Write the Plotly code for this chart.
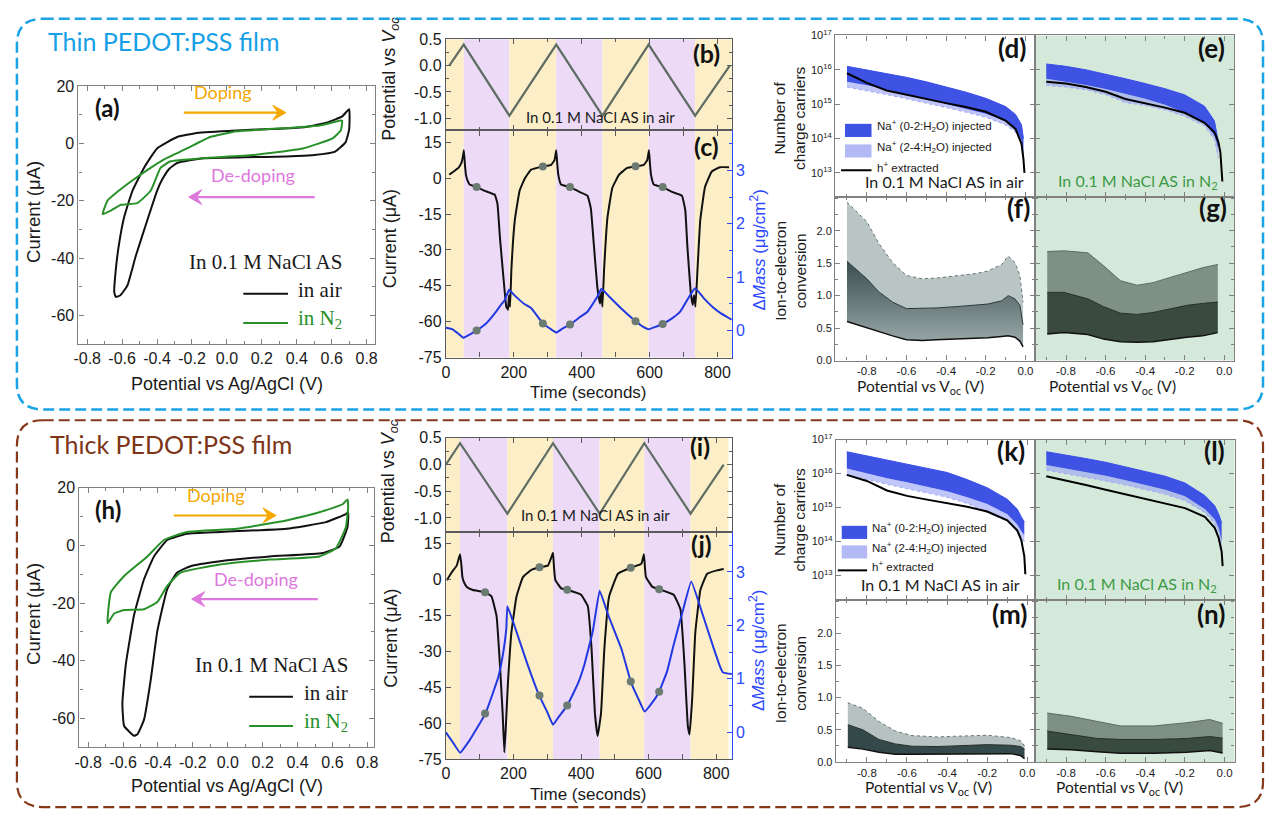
import plotly.graph_objects as go

W, H = 1271, 818

# ======================= DATA =======================
# (a) thin film cyclic voltammograms
a_air_E = [-0.636, -0.645, -0.636, -0.617, -0.588, -0.541, -0.475, -0.40, -0.285, -0.172, 0.055, 0.30, 0.45, 0.58, 0.66, 0.70,
           0.70, 0.68, 0.62, 0.50, 0.34, 0.10, -0.134, -0.285, -0.33, -0.37, -0.40, -0.456, -0.522, -0.57, -0.61, -0.636]
a_air_I = [-53.6, -52, -43.9, -34.8, -25.6, -16.5, -8.5, -1.7, 2.3, 3.7, 4.6, 5.2, 5.8, 7.5, 9.5, 12,
           5, 0.5, -2.8, -4.0, -4.5, -4.8, -5.1, -6.8, -8.8, -12.5, -16.5, -26.8, -39.3, -49.6, -53, -53.6]
a_n2_E = [-0.712, -0.683, -0.62, -0.54, -0.45, -0.36, -0.229, -0.096, 0.056, 0.34, 0.53, 0.644, 0.66,
          0.652, 0.605, 0.435, 0.15, -0.134, -0.323, -0.38, -0.437, -0.513, -0.607, -0.664, -0.712]
a_n2_I = [-24.7, -19.9, -16.5, -12.8, -9.0, -5.5, -1.7, 2.3, 4.3, 5.4, 6.3, 8.0, 8.0,
          4.6, 1.8, -1.7, -4.0, -5.1, -6.2, -8.5, -16.5, -20.8, -21.4, -23.4, -24.7]

# (h) thick film cyclic voltammograms
h_air_E = [-0.537, -0.594, -0.604, -0.584, -0.537, -0.48, -0.423, -0.347, -0.234, -0.044, 0.335, 0.563, 0.677, 0.69,
           0.686, 0.64, 0.544, 0.24, -0.044, -0.214, -0.29, -0.347, -0.404, -0.442, -0.48, -0.518, -0.537]
h_air_I = [-66, -62.6, -54.7, -41.1, -24.1, -11.7, -3.8, 1.9, 4.1, 4.7, 5.8, 8.1, 10.9, 11.5,
           6.4, -0.4, -2.6, -3.8, -5.5, -7.2, -9.4, -15.1, -29.8, -46.8, -60.4, -65.5, -66]
h_n2_E = [-0.689, -0.67, -0.594, -0.461, -0.366, -0.234, 0.051, 0.335, 0.525, 0.658, 0.686, 0.69,
          0.677, 0.62, 0.525, 0.24, -0.044, -0.271, -0.347, -0.404, -0.48, -0.594, -0.651, -0.689]
h_n2_I = [-27, -16.2, -10.6, -3.8, 1.9, 4.7, 5.8, 8.7, 11.5, 14.3, 16.0, 13.6,
          6.4, -0.95, -3.8, -4.9, -6.6, -9.4, -14, -19.6, -22.1, -22.4, -23.6, -27]

# (b) / (i) applied potential vs time
b_t = [10, 52.6, 187, 325, 461, 597, 734, 836]
b_V = [0.0, 0.4, -0.95, 0.4, -0.95, 0.4, -0.95, 0.0]
i_t = [0, 42, 182, 317, 455, 587, 724, 822]
i_V = [0.0, 0.4, -0.92, 0.4, -0.92, 0.4, -0.92, 0.0]

# doping (yellow) / de-doping (purple) intervals, seconds
thin_band_edges = [0, 52.6, 187, 325, 461, 597, 734, 842]
thick_band_edges = [0, 42, 182, 317, 455, 587, 724, 836]

# (c) thin film current and mass
c_t = [10, 25, 37, 46, 50, 53, 56, 59, 64, 70, 91, 115, 144, 152, 159, 169, 178, 183, 186, 189,
       193, 203, 217, 232, 251, 286, 310, 320, 325, 328, 331, 339, 366, 393, 417, 427, 435, 446, 454, 458,
       461, 466, 476, 490, 510, 534, 559, 583, 593, 598, 601, 604, 612, 638, 666, 695, 705, 711, 721, 727,
       731, 735, 741, 749, 763, 783, 807, 834]
c_I = [1.5, 3.0, 4.3, 6.5, 9, 11.7, 6, 1.5, -1, -2.6, -3.7, -5.3, -6.9, -10.7, -24.4, -40.7, -53.7, -55, -48.9, -53.7,
       -38, -17.6, -5.3, -0.2, 3.6, 4.9, 5.6, 7.6, 11.7, 6, 1.5, -2.6, -3.7, -5.7, -7.3, -12.7, -26.5, -45.5, -52.4, -47.7,
       -53.7, -38, -16.3, -4.1, 1.5, 4.3, 5.0, 5.6, 7.6, 11.7, 6, 1.5, -2.6, -3.7, -5.7, -7.3, -13.4, -28.2, -47.7, -53,
       -48.9, -53.7, -38, -17.6, -3.7, 2.8, 4.6, 4.6]
cm_t = [0, 20, 40, 52, 70, 91, 120, 145, 165, 173, 186, 200, 230, 251, 286, 310, 325, 345, 366, 395,
        417, 446, 458, 480, 515, 559, 580, 597, 615, 638, 665, 690, 719, 734, 760, 787, 810, 842]
cm_M = [0.05, 0.02, -0.08, -0.14, -0.08, 0.0, 0.14, 0.33, 0.5, 0.56, 0.76, 0.67, 0.5, 0.42, 0.13, 0.02, -0.04, 0.04, 0.11, 0.25,
        0.35, 0.63, 0.78, 0.64, 0.42, 0.17, 0.07, 0.02, 0.06, 0.12, 0.22, 0.35, 0.66, 0.79, 0.6, 0.43, 0.32, 0.2]
c_mk_t = [90.6, 285.6, 365.5, 558.5, 638.4]
c_mk_I = [-3.7, 4.9, -3.7, 5.0, -3.7]
c_mk_M = [0.0, 0.13, 0.11, 0.17, 0.12]

# (j) thick film current and mass
j_t = [3, 18, 32, 42, 46, 49, 55, 62, 80, 116, 135, 150, 160, 168, 173, 177, 184, 194, 209, 228,
       253, 277, 302, 312, 317, 320, 324, 341, 359, 400, 420, 431, 441, 449, 459, 469, 483, 509, 547, 578,
       586, 589, 592, 611, 631, 674, 694, 706, 716, 721, 729, 738, 753, 773, 802, 822]
j_I = [-0.2, 3.2, 5.9, 10.6, 6, 1.1, -1.5, -3.0, -4.3, -5.2, -7.0, -15.2, -35.5, -55.9, -72.2, -62.7, -42.3, -22, -7, 1.1,
       4.1, 5.2, 5.9, 9.3, 11.3, 5, -0.2, -3.6, -4.2, -6.3, -11.1, -28.7, -55.9, -65.4, -55.9, -28.7, -7, 2.5, 5.0, 6.6,
       10.6, 5, 1.1, -3.0, -4.0, -6.3, -12.4, -35.5, -61.3, -64.7, -49.1, -22, -4.3, 2.5, 3.9, 4.5]
jm_t = [0, 20, 42, 70, 117, 155, 170, 179, 182, 200, 240, 276, 300, 317, 335, 359, 390, 410, 435, 455,
        480, 520, 547, 570, 588, 610, 631, 655, 674, 700, 726, 760, 792, 810, 820, 847]
jm_M = [0, -0.18, -0.38, -0.15, 0.35, 1.03, 1.5, 1.95, 2.36, 2.05, 1.3, 0.69, 0.38, 0.14, 0.3, 0.5, 0.9, 1.27, 1.9, 2.65,
        2.2, 1.55, 0.95, 0.62, 0.39, 0.55, 0.76, 1.15, 1.64, 2.25, 2.82, 2.2, 1.58, 1.25, 1.12, 1.09]
j_mk_t = [116, 277, 359, 547, 631]
j_mk_I = [-5.2, 5.2, -4.2, 5.0, -4.0]
j_mk_M = [0.35, 0.69, 0.5, 0.95, 0.76]

# (d)(e)(k)(l) number of charge carriers, given as log10 exponents
d_x = [-0.9, -0.8, -0.7, -0.6, -0.5, -0.4, -0.3, -0.2, -0.1, -0.05, -0.02, -0.01]
d_dark_hi = [16.1, 16.0, 15.9, 15.78, 15.65, 15.5, 15.35, 15.17, 14.93, 14.7, 14.4, 14.0]
d_dark_lo = [15.65, 15.55, 15.42, 15.28, 15.14, 15.0, 14.86, 14.72, 14.5, 14.3, 13.95, 13.5]
d_light_lo = [15.5, 15.4, 15.28, 15.16, 15.04, 14.9, 14.77, 14.62, 14.4, 14.2, 13.85, 13.4]
d_h_x = [-0.9, -0.8, -0.7, -0.6, -0.5, -0.4, -0.3, -0.2, -0.1, -0.05, -0.02, -0.01, -0.005]
d_h = [15.9, 15.62, 15.4, 15.27, 15.15, 15.03, 14.92, 14.78, 14.52, 14.28, 13.85, 13.4, 13.0]

e_x = [-0.9, -0.8, -0.7, -0.6, -0.5, -0.4, -0.3, -0.2, -0.1, -0.05, -0.03]
e_dark_hi = [16.17, 16.1, 16.0, 15.88, 15.74, 15.6, 15.45, 15.27, 14.94, 14.51, 13.9]
e_dark_lo = [15.74, 15.66, 15.56, 15.44, 15.31, 15.16, 14.98, 14.75, 14.46, 14.09, 13.7]
e_light_lo = [15.55, 15.5, 15.42, 15.28, 15.05, 14.96, 14.84, 14.65, 14.37, 13.98, 13.43]
e_h_x = [-0.9, -0.8, -0.7, -0.6, -0.5, -0.4, -0.3, -0.2, -0.1, -0.05, -0.03, -0.02, -0.01]
e_h = [15.65, 15.6, 15.5, 15.36, 15.15, 15.03, 14.9, 14.75, 14.46, 14.18, 13.9, 13.6, 12.75]

k_x = [-0.9, -0.8, -0.7, -0.6, -0.5, -0.4, -0.3, -0.2, -0.1, -0.05, -0.03, -0.015]
k_dark_hi = [16.64, 16.52, 16.4, 16.28, 16.17, 16.03, 15.82, 15.58, 15.24, 14.95, 14.72, 14.57]
k_dark_lo = [16.15, 16.0, 15.86, 15.74, 15.62, 15.48, 15.3, 15.1, 14.8, 14.5, 14.3, 14.18]
k_light_lo = [15.96, 15.82, 15.68, 15.55, 15.43, 15.3, 15.12, 14.86, 14.6, 14.3, 14.12, 13.99]
k_h_x = [-0.9, -0.8, -0.7, -0.6, -0.5, -0.4, -0.3, -0.2, -0.1, -0.05, -0.03, -0.015, -0.01]
k_h = [15.96, 15.78, 15.5, 15.34, 15.23, 15.13, 15.02, 14.88, 14.62, 14.32, 14.04, 13.56, 13.03]

l_x = [-0.9, -0.8, -0.7, -0.6, -0.5, -0.4, -0.3, -0.2, -0.1, -0.05, -0.03, -0.015]
l_dark_hi = [16.64, 16.55, 16.44, 16.33, 16.2, 16.07, 15.92, 15.72, 15.35, 15.05, 14.8, 14.55]
l_dark_lo = [16.25, 16.15, 16.04, 15.93, 15.8, 15.67, 15.52, 15.33, 14.95, 14.65, 14.4, 14.0]
l_light_lo = [16.1, 16.0, 15.89, 15.78, 15.66, 15.53, 15.39, 15.2, 14.85, 14.52, 14.25, 13.8]
l_h_x = [-0.9, -0.8, -0.7, -0.6, -0.5, -0.4, -0.3, -0.2, -0.1, -0.05, -0.03, -0.015, -0.01]
l_h = [15.92, 15.8, 15.66, 15.52, 15.38, 15.25, 15.12, 14.98, 14.72, 14.4, 14.1, 13.7, 13.27]

# (f)(g)(m)(n) ion-to-electron conversion (lower, middle, upper boundaries)
f_x = [-0.9, -0.8, -0.74, -0.67, -0.6, -0.52, -0.45, -0.35, -0.25, -0.19, -0.12, -0.087, -0.053, -0.028, -0.012]
f_lo = [0.6, 0.5, 0.44, 0.38, 0.32, 0.31, 0.32, 0.33, 0.34, 0.35, 0.37, 0.38, 0.36, 0.3, 0.21]
f_mid = [1.53, 1.26, 1.06, 0.9, 0.8, 0.8, 0.81, 0.83, 0.85, 0.87, 0.92, 1.0, 0.95, 0.85, 0.55]
f_up = [2.44, 2.14, 1.81, 1.51, 1.31, 1.26, 1.27, 1.31, 1.34, 1.38, 1.48, 1.61, 1.51, 1.31, 0.9]

g_x = [-0.895, -0.81, -0.69, -0.61, -0.525, -0.44, -0.36, -0.275, -0.19, -0.11, -0.033]
g_lo = [0.41, 0.43, 0.4, 0.33, 0.29, 0.28, 0.29, 0.33, 0.36, 0.38, 0.43]
g_mid = [1.05, 1.05, 0.95, 0.83, 0.73, 0.71, 0.74, 0.79, 0.85, 0.88, 0.9]
g_up = [1.68, 1.69, 1.66, 1.46, 1.23, 1.16, 1.2, 1.28, 1.36, 1.43, 1.48]

m_x = [-0.895, -0.82, -0.74, -0.657, -0.575, -0.45, -0.36, -0.2, -0.083, -0.033, -0.014]
m_lo = [0.23, 0.2, 0.15, 0.12, 0.12, 0.12, 0.12, 0.12, 0.13, 0.1, 0.05]
m_mid = [0.58, 0.5, 0.35, 0.28, 0.245, 0.24, 0.25, 0.27, 0.26, 0.24, 0.2]
m_up = [0.92, 0.835, 0.63, 0.48, 0.41, 0.39, 0.4, 0.415, 0.38, 0.33, 0.25]

n_x = [-0.895, -0.775, -0.642, -0.525, -0.358, -0.192, -0.075, -0.01]
n_lo = [0.2, 0.19, 0.16, 0.137, 0.137, 0.15, 0.18, 0.14]
n_mid = [0.48, 0.43, 0.365, 0.35, 0.35, 0.365, 0.395, 0.37]
n_up = [0.76, 0.71, 0.63, 0.56, 0.56, 0.61, 0.66, 0.6]

# tick values / labels
cv_xticks = [-0.8, -0.6, -0.4, -0.2, 0.0, 0.2, 0.4, 0.6, 0.8]
cv_xtext = ["-0.8", "-0.6", "-0.4", "-0.2", "0.0", "0.2", "0.4", "0.6", "0.8"]
cv_yticks = [-60, -40, -20, 0, 20]
cv_ytext = ["-60", "-40", "-20", "0", "20"]
pot_ticks = [-1.0, -0.5, 0.0, 0.5]
pot_text = ["-1.0", "-0.5", "0.0", "0.5"]
cur_ticks = [-75, -60, -45, -30, -15, 0, 15]
cur_text = ["-75", "-60", "-45", "-30", "-15", "0", "15"]
time_ticks = [0, 200, 400, 600, 800]
time_text = ["0", "200", "400", "600", "800"]
mass_ticks = [0, 1, 2, 3]
mass_text = ["0", "1", "2", "3"]
log_ticks = [1e13, 1e14, 1e15, 1e16, 1e17]
log_text = ["10<sup>13</sup>", "10<sup>14</sup>", "10<sup>15</sup>", "10<sup>16</sup>", "10<sup>17</sup>"]
conv_ticks = [0.0, 0.5, 1.0, 1.5, 2.0]
conv_text = ["0.0", "0.5", "1.0", "1.5", "2.0"]
voc_ticks = [-0.8, -0.6, -0.4, -0.2, 0.0]
voc_text = ["-0.8", "-0.6", "-0.4", "-0.2", "0.0"]

# ======================= STYLE =======================
SANS = "Liberation Sans, Arial, sans-serif"
CAL = "Lato, Open Sans, sans-serif"
SERIF = "Liberation Serif, Times New Roman, serif"
BLUE_FRAME = "#1aa3e4"
BROWN_FRAME = "#86391a"
YELLOW = "#fcefc8"
PURPLE = "#ecdaf6"
GREEN_BG = "#d5e9da"
MASS_BLUE = "#2238e0"
AX_BLUE = "#2a48ff"
TRI = "#5f6d64"
MK = "#6c7b72"
DARK_NA = "#3e52e4"
LIGHT_NA = "rgba(150,160,245,0.6)"
CV_GREEN = "#289028"

def X(px):
    return px / W

def Y(py):
    return 1 - py / H

def xdom(a, b):
    return [a / W, b / W]

def ydom(top, bot):
    return [1 - bot / H, 1 - top / H]

def axis(domain, rng, anchor, tv, tt, font, line="#808080", minor=None, labels=True, mirror="allticks", **kw):
    d = dict(domain=domain, range=rng, anchor=anchor, showline=True, linecolor=line, linewidth=1.2,
             mirror=mirror, ticks="inside", ticklen=5, tickwidth=1, tickcolor=line, showgrid=False,
             zeroline=False, showticklabels=labels, fixedrange=True,
             tickmode="array", tickvals=tv)
    if labels:
        d.update(ticktext=tt, tickfont=font)
    if minor is not None:
        d["minor"] = dict(ticks="inside", ticklen=3, tickcolor=line, dtick=minor, tick0=0)
    d.update(kw)
    return d

F16 = dict(family=SANS, size=16, color="#1a1a1a")
F115 = dict(family=SANS, size=11.5, color="#1a1a1a")
F11 = dict(family=SANS, size=11, color="#1a1a1a")
FBLUE = dict(family=SANS, size=16, color=AX_BLUE)
DARKLINE = "#5a5a5a"

lay = {}
# (a)
lay["xaxis"] = axis(xdom(74, 373), [-0.85, 0.85], "y", cv_xticks, cv_xtext, F16, minor=0.1)
lay["yaxis"] = axis(ydom(80, 343), [-70, 20], "x", cv_yticks, cv_ytext, F16, minor=10)
# (b)
lay["xaxis2"] = axis(xdom(444, 732), [0, 842], "y2", time_ticks, time_text, F16, line=DARKLINE, minor=100, labels=False)
lay["yaxis2"] = axis(ydom(32, 125), [-1.23, 0.5], "x2", pot_ticks, pot_text, F16, line=DARKLINE, minor=0.25)
# (c)
lay["xaxis3"] = axis(xdom(444, 732), [0, 842], "y3", time_ticks, time_text, F16, line=DARKLINE, minor=100)
lay["yaxis3"] = axis(ydom(125, 357), [-75, 20], "x3", cur_ticks, cur_text, F16, line=DARKLINE, mirror=False)
lay["yaxis4"] = axis(ydom(125, 357), [-0.51, 3.75], "x3", mass_ticks, mass_text, FBLUE, line=AX_BLUE, minor=0.5,
                     mirror=False, overlaying="y3", side="right")
# (d)(e)(f)(g)
lay["xaxis4"] = axis(xdom(836, 1037.7), [-0.96, 0.05], "y5", voc_ticks, voc_text, F115, minor=0.1, labels=False)
lay["yaxis5"] = axis(ydom(28, 193), [12.3, 17], "x4", log_ticks, log_text, F11, type="log")
lay["xaxis5"] = axis(xdom(1037.7, 1238), [-0.955, 0.05], "y6", voc_ticks, voc_text, F115, minor=0.1, labels=False)
lay["yaxis6"] = axis(ydom(28, 193), [12.3, 17], "x5", log_ticks, log_text, F11, type="log", labels=False)
lay["xaxis6"] = axis(xdom(836, 1037.7), [-0.96, 0.05], "y7", voc_ticks, voc_text, F115, minor=0.1)
lay["yaxis7"] = axis(ydom(193, 360), [0, 2.52], "x6", conv_ticks, conv_text, F11, minor=0.25)
lay["xaxis7"] = axis(xdom(1037.7, 1238), [-0.955, 0.05], "y8", voc_ticks, voc_text, F115, minor=0.1)
lay["yaxis8"] = axis(ydom(193, 360), [0, 2.52], "x7", conv_ticks, conv_text, F11, minor=0.25, labels=False)
# (h)
lay["xaxis8"] = axis(xdom(75, 372), [-0.85, 0.84], "y9", cv_xticks, cv_xtext, F16, minor=0.1)
lay["yaxis9"] = axis(ydom(490, 755), [-70, 20], "x8", cv_yticks, cv_ytext, F16, minor=10)
# (i)
lay["xaxis9"] = axis(xdom(444, 732), [0, 846], "y10", time_ticks, time_text, F16, line=DARKLINE, minor=100, labels=False)
lay["yaxis10"] = axis(ydom(439, 535), [-1.26, 0.5], "x9", pot_ticks, pot_text, F16, line=DARKLINE, minor=0.25)
# (j)
lay["xaxis10"] = axis(xdom(444, 732), [0, 846], "y11", time_ticks, time_text, F16, line=DARKLINE, minor=100)
lay["yaxis11"] = axis(ydom(535, 767), [-75, 20], "x10", cur_ticks, cur_text, F16, line=DARKLINE, mirror=False)
lay["yaxis12"] = axis(ydom(535, 767), [-0.5, 3.75], "x10", mass_ticks, mass_text, FBLUE, line=AX_BLUE, minor=0.5,
                      mirror=False, overlaying="y11", side="right")
# (k)(l)(m)(n)
lay["xaxis11"] = axis(xdom(836.7, 1037.7), [-0.955, 0.04], "y13", voc_ticks, voc_text, F115, minor=0.1, labels=False)
lay["yaxis13"] = axis(ydom(440.7, 604.3), [12.28, 17], "x11", log_ticks, log_text, F11, type="log")
lay["xaxis12"] = axis(xdom(1037.7, 1238.3), [-0.955, 0.05], "y14", voc_ticks, voc_text, F115, minor=0.1, labels=False)
lay["yaxis14"] = axis(ydom(440.7, 604.3), [12.28, 17], "x12", log_ticks, log_text, F11, type="log", labels=False)
lay["xaxis13"] = axis(xdom(836.7, 1037.7), [-0.955, 0.04], "y15", voc_ticks, voc_text, F115, minor=0.1)
lay["yaxis15"] = axis(ydom(604.3, 770), [0, 2.52], "x13", conv_ticks, conv_text, F11, minor=0.25)
lay["xaxis14"] = axis(xdom(1037.7, 1238.3), [-0.955, 0.05], "y16", voc_ticks, voc_text, F115, minor=0.1)
lay["yaxis16"] = axis(ydom(604.3, 770), [0, 2.52], "x14", conv_ticks, conv_text, F11, minor=0.25, labels=False)

fig = go.Figure()

def sc(x, y, xa, ya, **kw):
    kw.setdefault("mode", "lines")
    fig.add_trace(go.Scatter(x=x, y=y, xaxis=xa, yaxis=ya, showlegend=False, hoverinfo="skip", **kw))

def exp10(v):
    return [10 ** e for e in v]

# ---- CV panels
sc(a_air_E, a_air_I, "x", "y", name="in air", line=dict(color="#111111", width=2, shape="spline", smoothing=0.4))
sc(a_n2_E, a_n2_I, "x", "y", name="in N2", line=dict(color=CV_GREEN, width=2, shape="spline", smoothing=0.4))
sc(h_air_E, h_air_I, "x8", "y9", name="in air", line=dict(color="#111111", width=2, shape="spline", smoothing=0.4))
sc(h_n2_E, h_n2_I, "x8", "y9", name="in N2", line=dict(color=CV_GREEN, width=2, shape="spline", smoothing=0.4))

# ---- potential triangles
sc(b_t, b_V, "x2", "y2", line=dict(color=TRI, width=2.2))
sc(i_t, i_V, "x9", "y10", line=dict(color=TRI, width=2.2))

# ---- current / mass
sc(c_t, c_I, "x3", "y3", line=dict(color="#111111", width=2, shape="spline", smoothing=0.3))
sc(c_mk_t, c_mk_I, "x3", "y3", mode="markers", marker=dict(color=MK, size=8))
sc(cm_t, cm_M, "x3", "y4", line=dict(color=MASS_BLUE, width=2, shape="spline", smoothing=0.3))
sc(c_mk_t, c_mk_M, "x3", "y4", mode="markers", marker=dict(color=MK, size=8))

sc(j_t, j_I, "x10", "y11", line=dict(color="#111111", width=2, shape="spline", smoothing=0.3))
sc(j_mk_t, j_mk_I, "x10", "y11", mode="markers", marker=dict(color=MK, size=8))
sc(jm_t, jm_M, "x10", "y12", line=dict(color=MASS_BLUE, width=2, shape="spline", smoothing=0.3))
sc(j_mk_t, j_mk_M, "x10", "y12", mode="markers", marker=dict(color=MK, size=8))

# ---- charge carrier panels
def carriers(xb, lo, mid, hi, xh, hh, xa, ya):
    sc(xb, exp10(lo), xa, ya, line=dict(color="#a6aef2", width=1.2, dash="dot"))
    sc(xb, exp10(mid), xa, ya, fill="tonexty", fillcolor=LIGHT_NA, line=dict(width=0))
    sc(xb, exp10(hi), xa, ya, fill="tonexty", fillcolor=DARK_NA, line=dict(color="#3a4fe8", width=1))
    sc(xh, exp10(hh), xa, ya, line=dict(color="#000000", width=2))

carriers(d_x, d_light_lo, d_dark_lo, d_dark_hi, d_h_x, d_h, "x4", "y5")
carriers(e_x, e_light_lo, e_dark_lo, e_dark_hi, e_h_x, e_h, "x5", "y6")
carriers(k_x, k_light_lo, k_dark_lo, k_dark_hi, k_h_x, k_h, "x11", "y13")
carriers(l_x, l_light_lo, l_dark_lo, l_dark_hi, l_h_x, l_h, "x12", "y14")

# ---- conversion panels
def conversion(x, lo, mid, up, xa, ya, low_fill, up_fill, gradient=None, dotted=True):
    sc(x, lo, xa, ya, line=dict(color="#111111", width=1.5))
    if gradient is not None:
        sc(x, mid, xa, ya, fill="tonexty", fillgradient=gradient, line=dict(color="#2b3636", width=1))
    else:
        sc(x, mid, xa, ya, fill="tonexty", fillcolor=low_fill, line=dict(color="#222a24", width=1))
    sc(x, up, xa, ya, fill="tonexty", fillcolor=up_fill,
       line=dict(color="#66736f" if dotted else "#5d6b60", width=1, dash="dot" if dotted else "solid"))

conversion(f_x, f_lo, f_mid, f_up, "x6", "y7", None, "#b9c5c4",
           gradient=dict(type="vertical", colorscale=[[0, "#9aa8a8"], [1, "#3f5152"]], start=0.3, stop=1.5))
conversion(g_x, g_lo, g_mid, g_up, "x7", "y8", "#3b4a3f", "#7f9184", dotted=False)
conversion(m_x, m_lo, m_mid, m_up, "x13", "y15", "#33494a", "#b6c2c1")
conversion(n_x, n_lo, n_mid, n_up, "x14", "y16", "#394a3e", "#7e9082", dotted=False)

# ======================= SHAPES =======================
shapes = []

def bands(edges, xref, top, bot):
    for k in range(len(edges) - 1):
        shapes.append(dict(type="rect", xref=xref, yref="paper", x0=edges[k], x1=edges[k + 1],
                           y0=Y(bot), y1=Y(top), fillcolor=YELLOW if k % 2 == 0 else PURPLE,
                           line=dict(width=0), layer="below"))

bands(thin_band_edges, "x3", 32, 357)
bands(thick_band_edges, "x10", 439, 767)

for xr, yr in [("x5", "y6"), ("x7", "y8"), ("x12", "y14"), ("x14", "y16")]:
    shapes.append(dict(type="rect", xref=xr + " domain", yref=yr + " domain", x0=0, x1=1, y0=0, y1=1,
                       fillcolor=GREEN_BG, line=dict(width=0), layer="below"))

def rbox(L, T, R, B, r, color, width):
    p = (f"M {X(L + r)},{Y(T)} L {X(R - r)},{Y(T)} Q {X(R)},{Y(T)} {X(R)},{Y(T + r)} "
         f"L {X(R)},{Y(B - r)} Q {X(R)},{Y(B)} {X(R - r)},{Y(B)} L {X(L + r)},{Y(B)} "
         f"Q {X(L)},{Y(B)} {X(L)},{Y(B - r)} L {X(L)},{Y(T + r)} Q {X(L)},{Y(T)} {X(L + r)},{Y(T)} Z")
    shapes.append(dict(type="path", xref="paper", yref="paper", path=p,
                       line=dict(color=color, width=width, dash="11px,5px")))

rbox(12, 11, 1267, 410, 26, BLUE_FRAME, 2.5)
rbox(12, 421, 1267, 816, 26, BROWN_FRAME, 2.2)

# legend swatches (d) and (k)
def na_legend(x0, x1, y_dark, y_light, y_line):
    shapes.append(dict(type="rect", xref="paper", yref="paper", x0=X(x0), x1=X(x1),
                       y0=Y(y_dark + 6.7), y1=Y(y_dark - 6.7), fillcolor=DARK_NA, line=dict(width=0)))
    shapes.append(dict(type="rect", xref="paper", yref="paper", x0=X(x0), x1=X(x1),
                       y0=Y(y_light + 6.7), y1=Y(y_light - 6.7), fillcolor="#b3b9f5", line=dict(width=0)))
    shapes.append(dict(type="line", xref="paper", yref="paper", x0=X(x0 - 4), x1=X(x1),
                       y0=Y(y_line), y1=Y(y_line), line=dict(color="#000000", width=2)))

na_legend(846, 872.7, 125, 146, 165.7)
na_legend(842.7, 868.3, 535.5, 555.5, 574.3)

# CV legend lines
for (x0, x1, yy, col) in [(240, 285, 291.7, "#111111"), (240, 285, 321.7, CV_GREEN),
                          (246, 290, 703.3, "#111111"), (246, 290, 733.3, CV_GREEN)]:
    shapes.append(dict(type="line", xref="paper", yref="paper", x0=X(x0), x1=X(x1), y0=Y(yy), y1=Y(yy),
                       line=dict(color=col, width=2)))

# doping / de-doping arrows (shaft + head, in data coordinates)
ORANGE = "#f5a800"
PINK = "#dd78dd"

def arrow(xr, yr, x_head, x_tail, yv, color, hl, hh):
    d = 1 if x_head > x_tail else -1
    shapes.append(dict(type="line", xref=xr, yref=yr, x0=x_tail, x1=x_head - d * hl * 0.6, y0=yv, y1=yv,
                       line=dict(color=color, width=2.2)))
    p = (f"M {x_head},{yv} L {x_head - d * hl},{yv + hh} L {x_head - d * hl * 0.6},{yv} "
         f"L {x_head - d * hl},{yv - hh} Z")
    shapes.append(dict(type="path", xref=xr, yref=yr, path=p, fillcolor=color, line=dict(color=color, width=1)))

arrow("x", "y", 0.338, -0.247, 10.8, ORANGE, 0.075, 2.6)
arrow("x", "y", -0.219, 0.503, -18.7, PINK, 0.075, 2.6)
arrow("x8", "y9", 0.277, -0.31, 10.4, ORANGE, 0.075, 2.6)
arrow("x8", "y9", -0.207, 0.516, -18.6, PINK, 0.075, 2.6)

# ======================= TEXT =======================
ann = []

def A(text, px, py, size=16, color="#1a1a1a", family=SANS, angle=0, xanchor="center", yanchor="middle"):
    # small empirical correction of the text box centre
    if angle == 0:
        py -= 6 if family == CAL else 4
    else:
        px -= 5
    ann.append(dict(text=text, x=X(px), y=Y(py), xref="paper", yref="paper", showarrow=False,
                    font=dict(size=size, color=color, family=family), textangle=angle,
                    xanchor=xanchor, yanchor=yanchor))

# frame titles
A("Thin PEDOT:PSS film", 41, 40, size=25, color="#16a0e6", family=CAL, xanchor="left")
A("Thick PEDOT:PSS film", 43, 451, size=25, color="#7d3517", family=CAL, xanchor="left")

# panel letters
for lab, px, py, sz in [("a", 103, 108, 24), ("b", 706.7, 51.7, 25), ("c", 706.7, 146.7, 25),
                        ("d", 1014, 46.7, 26), ("e", 1215, 46.7, 26), ("f", 1020.7, 210.7, 26),
                        ("g", 1216.7, 210.7, 26), ("h", 103.3, 518.3, 24), ("i", 700, 453.3, 25),
                        ("j", 701.7, 553.3, 25), ("k", 1013, 458.3, 26), ("l", 1218, 458.3, 26),
                        ("m", 1011.7, 625, 26), ("n", 1215, 625, 26)]:
    A(f"<b>({lab})</b>", px, py, size=sz, color="#111111", family=CAL)

# axis titles
VOC_T = "Potential vs <i>V</i><sub><i>oc</i></sub>"
MASS_T = "Δ<i>Mass</i> (μg/cm<sup>2</sup>)"
XV_T = "Potential vs V<sub>oc</sub> (V)"
for py_x, py_y in [(388, 208.5), (799, 619)]:
    A("Potential vs Ag/AgCl (V)", 224, py_x, size=18)
    A("Current (μA)", 33, py_y, size=18.5, angle=-90)
A(VOC_T, 393, 72, size=18, angle=-90)
A("Current (μA)", 393, 236, size=18, angle=-90)
A(MASS_T, 763, 247, size=17, color=AX_BLUE, angle=-90)
A("Time (seconds)", 588, 397, size=17)
A(VOC_T, 393, 483, size=18, angle=-90)
A("Current (μA)", 393, 644, size=18, angle=-90)
A(MASS_T, 763, 656, size=17, color=AX_BLUE, angle=-90)
A("Time (seconds)", 588, 807, size=17)

A("Number of<br>charge carriers", 795, 112, size=15.5, angle=-90)
A("Ion-to-electron<br>conversion", 796, 268, size=15.5, angle=-90)
A(XV_T, 922, 393, size=15.5, family=CAL)
A(XV_T, 1115, 393, size=15.5, family=CAL)
A("Number of<br>charge carriers", 795, 522, size=15.5, angle=-90)
A("Ion-to-electron<br>conversion", 796, 679, size=15.5, angle=-90)
A(XV_T, 930, 803, size=15.5, family=CAL)
A(XV_T, 1122, 803, size=15.5, family=CAL)

# condition labels
A("In 0.1 M NaCl AS in air", 600, 117, size=15, family=CAL)
A("In 0.1 M NaCl AS in air", 595, 524, size=15, family=CAL)
A("In 0.1 M NaCl AS in air", 946, 183.3, size=16, family=CAL)
A("In 0.1 M NaCl AS in N<sub>2</sub>", 1141, 183.3, size=16, color="#3c9a45", family=CAL)
A("In 0.1 M NaCl AS in air", 942, 595, size=16, family=CAL)
A("In 0.1 M NaCl AS in N<sub>2</sub>", 1140, 595, size=16, color="#3c9a45", family=CAL)

# legend texts (d)/(k)
for (px, ys) in [(876, (125, 146, 166)), (871, (535.5, 555.5, 574.3))]:
    A("Na<sup>+</sup> (0-2:H<sub>2</sub>O) injected", px, ys[0], size=11.5, xanchor="left")
    A("Na<sup>+</sup> (2-4:H<sub>2</sub>O) injected", px, ys[1], size=11.5, xanchor="left")
    A("h<sup>+</sup> extracted", px, ys[2], size=11.5, xanchor="left")

# CV legends
A("In 0.1 M NaCl AS", 341, 263, size=21, family=SERIF, xanchor="right")
A("in air", 341, 291.7, size=21, family=SERIF, xanchor="right")
A("in N<sub>2</sub>", 341, 321.7, size=21, family=SERIF, color=CV_GREEN, xanchor="right")
A("In 0.1 M NaCl AS", 347, 675, size=21, family=SERIF, xanchor="right")
A("in air", 347, 703.3, size=21, family=SERIF, xanchor="right")
A("in N<sub>2</sub>", 347, 733.3, size=21, family=SERIF, color=CV_GREEN, xanchor="right")

def dtext(xr, yr, text, xv, yv, color):
    ann.append(dict(text=text, xref=xr, yref=yr, x=xv, y=yv, showarrow=False,
                    font=dict(family=CAL, size=18, color=color)))

dtext("x", "y", "Doping", -0.02, 18.0, ORANGE)
dtext("x", "y", "De-doping", 0.15, -11.0, PINK)
dtext("x8", "y9", "Doping", -0.07, 17.5, ORANGE)
dtext("x8", "y9", "De-doping", 0.163, -11.5, PINK)

fig.update_layout(width=W, height=H, autosize=False, margin=dict(l=0, r=0, t=0, b=0),
                  paper_bgcolor="white", plot_bgcolor="rgba(0,0,0,0)", showlegend=False,
                  font=dict(family=SANS, color="#1a1a1a"), shapes=shapes, annotations=ann, **lay)

fig.write_html("out.html")
